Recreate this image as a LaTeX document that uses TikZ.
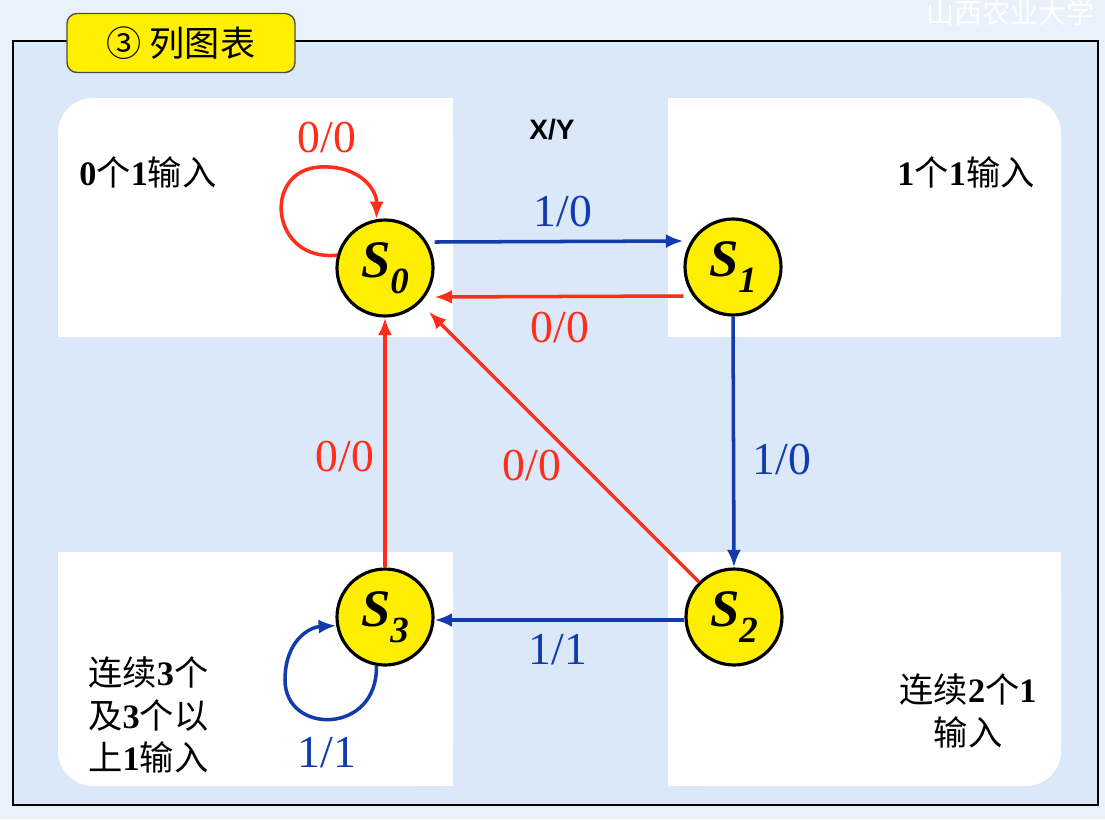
\documentclass[tikz,border=0pt]{standalone}
\usepackage{fontspec}
\setmainfont{Liberation Serif}
\setsansfont{Liberation Sans}
\newfontfamily\cjk{Noto Sans CJK SC}
\usetikzlibrary{arrows.meta, positioning, calc}
\definecolor{arrred}{RGB}{255,45,25}
\definecolor{arrblue}{RGB}{18,60,172}
\definecolor{slide}{RGB}{218,232,250}
\definecolor{page}{RGB}{233,241,251}
\definecolor{stateyel}{RGB}{255,238,0}
\definecolor{tagyel}{RGB}{255,240,0}
\newcommand\st[2]{#1\raisebox{-0.3em}{\fontsize{21}{21}\selectfont #2}}
\newcommand\zh[1]{{\cjk\mdseries\upshape #1}}
\tikzset{
  state/.style={circle, draw=black, line width=1.8pt, fill=stateyel,
                minimum size=1.92cm, inner sep=0pt,
                font=\fontsize{30}{30}\selectfont\bfseries\itshape},
  redarr/.style={-{Latex[length=10pt,width=8pt]}, line width=2pt, arrred},
  bluearr/.style={-{Latex[length=10pt,width=8pt]}, line width=2pt, arrblue},
  lbl/.style={font=\fontsize{26}{26}\selectfont, inner sep=0pt},
  note/.style={font=\fontsize{19.5}{24}\selectfont\bfseries, inner sep=0pt},
  tag/.style={rectangle, rounded corners=0.2cm, draw=black!70, line width=0.8pt,
              fill=tagyel, minimum width=4.56cm, minimum height=1.18cm,
              font=\fontsize{20}{20}\selectfont},
}

\begin{document}
\begin{tikzpicture}[x=0.02cm, y=-0.02cm]
  \useasboundingbox[fill=page] (0,0) rectangle (1105,819);
  \node[text=white, anchor=west, inner sep=0pt, font=\cjk\fontsize{16}{16}\selectfont] (wm) at (926,13) {山西农业大学};
  %% slide frame
  \draw[fill=slide, line width=1.1pt] (13,41) rectangle (1098,805);
  %% corner panels (one rounded corner each)
  \fill[white, rounded corners=0.7cm] (58,98) rectangle (453,337);
  \fill[white] (93,98) rectangle (453,337);
  \fill[white] (58,133) rectangle (453,337);
  \fill[white, rounded corners=0.7cm] (668,98) rectangle (1061,337);
  \fill[white] (668,98) rectangle (1026,337);
  \fill[white] (668,133) rectangle (1061,337);
  \fill[white, rounded corners=0.7cm] (58,552) rectangle (453,786);
  \fill[white] (93,552) rectangle (453,786);
  \fill[white] (58,552) rectangle (453,751);
  \fill[white, rounded corners=0.7cm] (668,552) rectangle (1061,786);
  \fill[white] (668,552) rectangle (1026,786);
  \fill[white] (668,552) rectangle (1061,751);
  %% title tag
  \node[tag] (title) at (181,43) {\zh{③ 列图表}};
  %% states
  \node[state] (S0) at (385,268) {\st{S}{0}};
  \node[state] (S1) at (733,267) {\st{S}{1}};
  \node[state] (S2) at (734,617) {\st{S}{2}};
  \node[state] (S3) at (385,617) {\st{S}{3}};
  %% panel notes
  \node[note] (n0) at (148,172) {0\zh{个}1\zh{输入}};
  \node[note] (n1) at (966,172) {1\zh{个}1\zh{输入}};
  \node[note, align=left, anchor=west] (n3) at (88,715)
    {\zh{连续}3\zh{个}\\\zh{及}3\zh{个以}\\\zh{上}1\zh{输入}};
  \node[note, align=center] (n2) at (968,711) {\zh{连续}2\zh{个}1\\\zh{输入}};
  \node[font=\sffamily\bfseries\fontsize{16}{16}\selectfont] (xy) at (552,130) {X/Y};
  %% transitions
  \draw[bluearr] ([yshift=0.52cm]S0.east) -- ([yshift=0.52cm]S1.west);
  \draw[redarr] ([yshift=-0.58cm]S1.west) -- ([yshift=-0.58cm]S0.east);
  \draw[bluearr] (S1.south) -- (S2.north);
  \draw[bluearr] ([yshift=-0.06cm]S2.west) -- ([yshift=-0.06cm]S3.east);
  \draw[redarr, shorten >=0.25cm] (S2) -- (S0);
  \draw[redarr] (S3.north) -- (S0.south);
  \draw[redarr] (S0.165) .. controls (270,262) and (262,170) .. (320,167)
    .. controls (360,165) and (377,190) .. (S0.100);
  \draw[bluearr] (S3.-100) .. controls (378,735) and (285,735) .. (285,680)
    .. controls (285,640) and (310,627) .. (S3.190);
  %% transition labels
  \node[lbl, text=arrred]  (t00a) at (327,138) {0/0};
  \node[lbl, text=arrblue] (t10a) at (563,212) {1/0};
  \node[lbl, text=arrred]  (t00b) at (560,328) {0/0};
  \node[lbl, text=arrblue] (t10b) at (782,460) {1/0};
  \node[lbl, text=arrred]  (t00c) at (345,457) {0/0};
  \node[lbl, text=arrred]  (t00d) at (532,466) {0/0};
  \node[lbl, text=arrblue] (t11a) at (558,650) {1/1};
  \node[lbl, text=arrblue] (t11b) at (327,753) {1/1};
\end{tikzpicture}
\end{document}
